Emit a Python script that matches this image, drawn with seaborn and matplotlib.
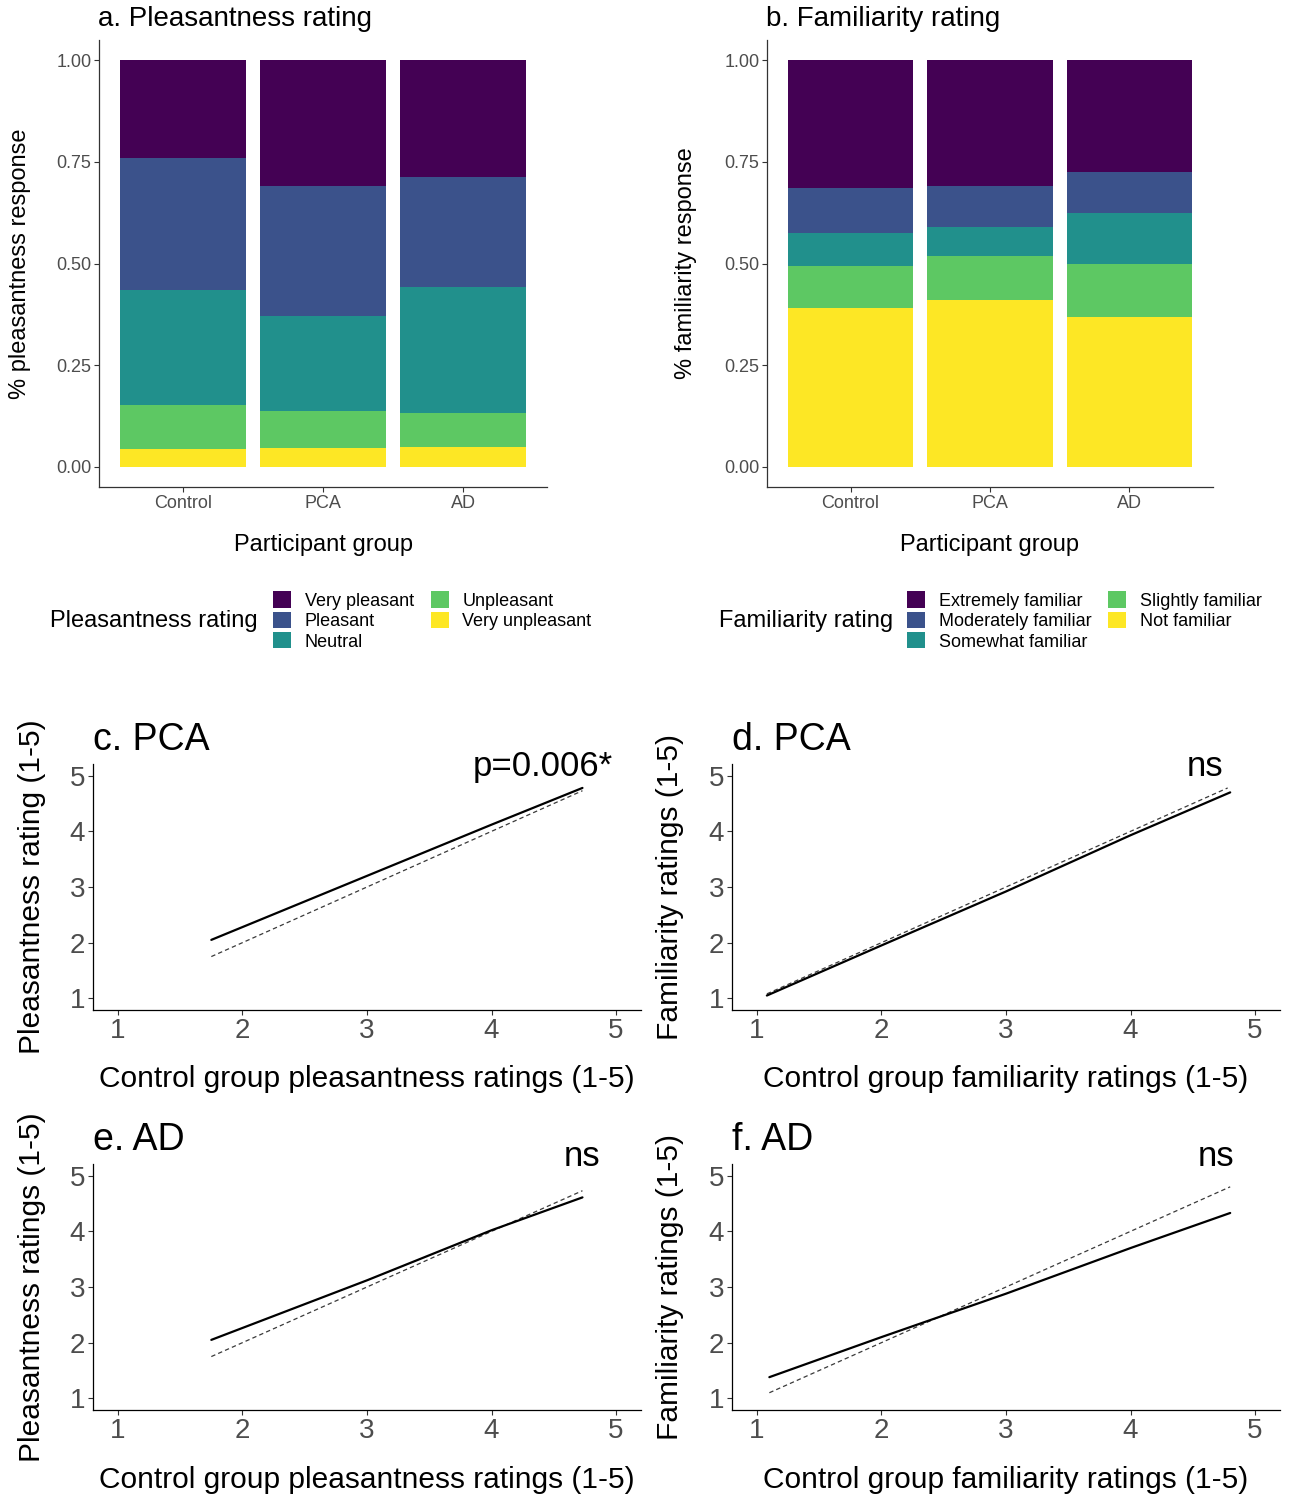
import numpy as np
import pandas as pd
import matplotlib
matplotlib.use("Agg")
import matplotlib.pyplot as plt
import seaborn as sns
from matplotlib.patches import Patch

# ---------------- data ----------------
groups = ["Control", "PCA", "AD"]

pleas_levels = ["Very pleasant", "Pleasant", "Neutral", "Unpleasant", "Very unpleasant"]
pleas_control = [0.241, 0.325, 0.281, 0.109, 0.044]
pleas_pca = [0.309, 0.321, 0.232, 0.091, 0.047]
pleas_ad = [0.287, 0.270, 0.310, 0.084, 0.049]

fam_levels = ["Extremely familiar", "Moderately familiar", "Somewhat familiar",
              "Slightly familiar", "Not familiar"]
fam_control = [0.315, 0.109, 0.081, 0.104, 0.391]
fam_pca = [0.309, 0.102, 0.070, 0.109, 0.410]
fam_ad = [0.276, 0.100, 0.124, 0.131, 0.369]

viridis5 = ["#440154", "#3B528B", "#21908C", "#5DC863", "#FDE725"]

# line panels: fitted line (solid) and reference line (dashed)
c_fit_x = [1.75, 3.0, 4.0, 4.73]
c_fit_y = [2.05, 3.20, 4.12, 4.78]
c_ref_x = [1.75, 4.73]
c_ref_y = [1.75, 4.73]

d_fit_x = [1.08, 2.0, 3.0, 4.0, 4.80]
d_fit_y = [1.05, 1.95, 2.92, 3.93, 4.70]
d_ref_x = [1.08, 4.78]
d_ref_y = [1.08, 4.78]

e_fit_x = [1.75, 3.0, 4.0, 4.73]
e_fit_y = [2.05, 3.12, 4.02, 4.61]
e_ref_x = [1.75, 4.73]
e_ref_y = [1.75, 4.73]

f_fit_x = [1.10, 2.0, 3.0, 4.0, 4.80]
f_fit_y = [1.38, 2.10, 2.88, 3.70, 4.33]
f_ref_x = [1.10, 4.80]
f_ref_y = [1.10, 4.80]

ticks_1_5 = [1, 2, 3, 4, 5]

# ---------------- style ----------------
sns.set_theme(style="white")
plt.rcParams["font.family"] = ["Liberation Sans", "DejaVu Sans"]
plt.rcParams["text.color"] = "black"
plt.rcParams["axes.labelcolor"] = "black"

W, H = 1292, 1498
fig = plt.figure(figsize=(W / 100, H / 100), dpi=100)
GRAY = "#4D4D4D"


def add_ax(left, top, right, bottom):
    return fig.add_axes([left / W, 1 - bottom / H, (right - left) / W, (bottom - top) / H])


def ftext(x, y, s, **kw):
    return fig.text(x / W, 1 - y / H, s, color="black", **kw)


def style_axes(ax, spine_color, tick_size):
    for s in ["top", "right"]:
        ax.spines[s].set_visible(False)
    for s in ["left", "bottom"]:
        ax.spines[s].set_color(spine_color)
        ax.spines[s].set_linewidth(0.9)
    ax.tick_params(axis="both", which="both", direction="out", length=3.5, width=0.8,
                   color="#333333", labelcolor=GRAY, labelsize=tick_size,
                   left=True, bottom=True, pad=2)
    ax.grid(False)


def place_labels(ax, box, xlabel, ylabel, xl_y, yl_x, size):
    left, top, right, bottom = box
    ax.set_xlabel(xlabel, fontsize=size, color="black")
    ax.set_ylabel(ylabel, fontsize=size, color="black")
    ax.xaxis.set_label_coords(0.5, (bottom - xl_y) / (bottom - top))
    ax.yaxis.set_label_coords((yl_x - left) / (right - left), 0.5)
    ax.xaxis.label.set_va("center")
    ax.yaxis.label.set_va("center")
    ax.yaxis.label.set_ha("center")


def stacked_panel(box, levels, values_by_group, title, ylabel, legend_title,
                  title_x, leg_title_x, leg_x, yl_x):
    ax = add_ax(*box)
    n = len(levels)
    for i in range(n):
        tops = [sum(vals[i:]) for vals in values_by_group]
        df = pd.DataFrame({"group": groups, "top": tops})
        sns.barplot(data=df, x="group", y="top", order=groups, color=viridis5[i],
                    saturation=1, width=0.9, ax=ax, edgecolor="none", linewidth=0,
                    errorbar=None)
    ax.set_xlim(-0.6, 2.6)
    ax.set_ylim(-0.05, 1.05)
    ax.set_yticks([0, 0.25, 0.5, 0.75, 1.0])
    ax.set_yticklabels(["0.00", "0.25", "0.50", "0.75", "1.00"])
    style_axes(ax, "#333333", 13)
    place_labels(ax, box, "Participant group", ylabel, 545, yl_x, 17)
    ftext(title_x, 19, title, fontsize=20, ha="left", va="center")
    # legend
    ftext(leg_title_x, 621, legend_title, fontsize=17, ha="left", va="center")
    handles = [Patch(facecolor=c, edgecolor="none") for c in viridis5]
    leg = fig.legend(handles, levels, ncol=2, loc="center left",
                     bbox_to_anchor=(leg_x / W, 1 - 621 / H), frameon=False,
                     fontsize=13, handlelength=1.0, handleheight=1.0, labelspacing=0.12,
                     handletextpad=0.75, columnspacing=0.95, borderpad=0, borderaxespad=0)
    for t in leg.get_texts():
        t.set_color("black")
    return ax


box_a = (99, 40, 547, 487)
box_b = (767, 40, 1213, 487)
stacked_panel(box_a, pleas_levels, [pleas_control, pleas_pca, pleas_ad],
              "a. Pleasantness rating", "% pleasantness response", "Pleasantness rating",
              98, 50, 273, 20)
stacked_panel(box_b, fam_levels, [fam_control, fam_pca, fam_ad],
              "b. Familiarity rating", "% familiarity response", "Familiarity rating",
              766, 719, 907, 686)


def line_panel(box, fx, fy, rx, ry, title, xlabel, ylabel, note, note_x, note_y,
               title_y, xl_y, yl_x):
    ax = add_ax(*box)
    sns.lineplot(x=rx, y=ry, ax=ax, color="#3a3a3a", linewidth=0.9, linestyle="--")
    ax.lines[-1].set_dashes((3.5, 2.5))
    sns.lineplot(x=fx, y=fy, ax=ax, color="black", linewidth=1.6)
    ax.set_xlim(0.8, 5.2)
    ax.set_ylim(0.79, 5.21)
    ax.set_xticks(ticks_1_5)
    ax.set_yticks(ticks_1_5)
    style_axes(ax, "black", 20)
    place_labels(ax, box, xlabel, ylabel, xl_y, yl_x, 21.5)
    ftext(box[0], title_y, title, fontsize=27, ha="left", va="center")
    ax.text(note_x, note_y, note, fontsize=25, ha="center", va="center",
            color="black", clip_on=False)
    return ax


box_c = (93, 764, 641, 1010)
box_d = (732, 764, 1280, 1010)
box_e = (93, 1164, 641, 1410)
box_f = (732, 1164, 1280, 1410)

line_panel(box_c, c_fit_x, c_fit_y, c_ref_x, c_ref_y, "c. PCA",
           "Control group pleasantness ratings (1-5)", "Pleasantness rating (1-5)",
           "p=0.006*", 4.41, 5.16, 740, 1079, 32)
line_panel(box_d, d_fit_x, d_fit_y, d_ref_x, d_ref_y, "d. PCA",
           "Control group familiarity ratings (1-5)", "Familiarity ratings (1-5)",
           "ns", 4.6, 5.16, 740, 1079, 670)
line_panel(box_e, e_fit_x, e_fit_y, e_ref_x, e_ref_y, "e. AD",
           "Control group pleasantness ratings (1-5)", "Pleasantness ratings (1-5)",
           "ns", 4.73, 5.34, 1140, 1480, 32)
line_panel(box_f, f_fit_x, f_fit_y, f_ref_x, f_ref_y, "f. AD",
           "Control group familiarity ratings (1-5)", "Familiarity ratings (1-5)",
           "ns", 4.69, 5.34, 1140, 1480, 670)

fig.savefig("out.png", dpi=100, facecolor="white")
